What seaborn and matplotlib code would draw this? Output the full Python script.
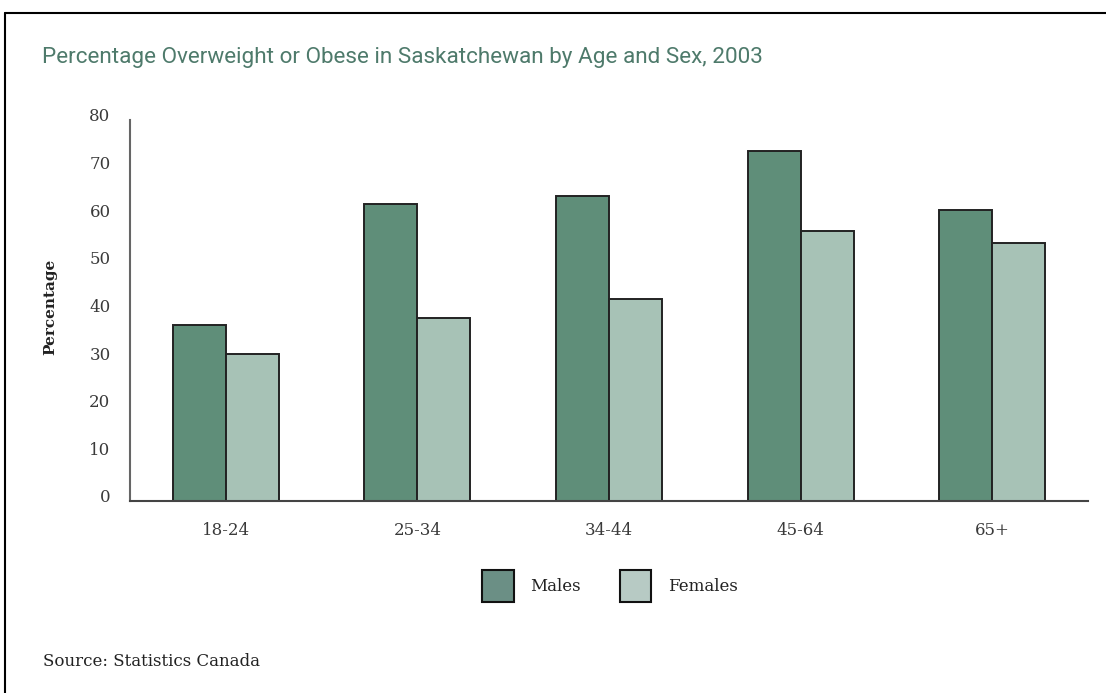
import matplotlib
matplotlib.use("Agg")
import matplotlib.pyplot as plt
import matplotlib.transforms as mtransforms
from matplotlib.patches import Patch
from matplotlib.lines import Line2D
import pandas as pd
import seaborn as sns

# Data: percentage overweight or obese, Saskatchewan 2003
age_groups = ["18-24", "25-34", "34-44", "45-64", "65+"]
males = [36.9, 62.3, 64.1, 73.5, 61.1]
females = [30.8, 38.4, 42.5, 56.6, 54.1]
series = ["Males", "Females"]
y_ticks = [0, 10, 20, 30, 40, 50, 60, 70, 80]

title = "Percentage Overweight or Obese in Saskatchewan by Age and Sex, 2003"
source = "Source: Statistics Canada"

bar_colors = ["#5f8e79", "#a7c2b6"]
legend_colors = ["#6b8f85", "#b7cac4"]
title_color = "#4e7a6b"

df = pd.DataFrame({
    "Age": age_groups * 2,
    "Sex": [series[0]] * len(age_groups) + [series[1]] * len(age_groups),
    "Percentage": males + females,
})

sns.set_theme(style="white")
plt.rcParams["font.family"] = ["DejaVu Serif"]

W, H = 1106, 693
fig = plt.figure(figsize=(W / 100, H / 100), dpi=100)
ax = fig.add_axes([130 / W, 1 - 501 / H, (1088 - 130) / W, (501 - 120) / H])

sns.barplot(data=df, x="Age", y="Percentage", hue="Sex", order=age_groups,
            hue_order=series, palette=bar_colors, saturation=1, width=0.553,
            errorbar=None, edgecolor="#222222", linewidth=1.4, legend=False, ax=ax)

ax.set_xlim(-0.5, len(age_groups) - 0.5)
ax.set_ylim(0, 80)
ax.set_yticks(y_ticks)
ax.set_yticklabels([str(t) for t in y_ticks])
ax.set_xlabel("")
ax.set_ylabel("Percentage", fontsize=11, fontweight="bold", color="#222222")
ax.yaxis.set_label_coords(-0.076, 0.51)

ax.tick_params(axis="both", length=0, labelsize=12, labelcolor="#3a3a3a")
ax.tick_params(axis="y", pad=14)
ax.tick_params(axis="x", pad=15)
shift = mtransforms.ScaledTranslation(0, 5 / 100, fig.dpi_scale_trans)
for lbl in ax.get_yticklabels():
    lbl.set_transform(lbl.get_transform() + shift)

for side in ["top", "right"]:
    ax.spines[side].set_visible(False)
ax.spines["left"].set_color("#666666")
ax.spines["left"].set_linewidth(1.5)
ax.spines["bottom"].set_color("#444444")
ax.spines["bottom"].set_linewidth(1.5)
ax.grid(False)

# Title in a narrow sans face
fig.text(42 / W, 1 - 58 / H, title, fontsize=16.2, color=title_color,
         family=["Roboto", "DejaVu Sans"], va="center", ha="left")

# Legend below the plot
handles = [Patch(facecolor=c, edgecolor="#111111", linewidth=1.5) for c in legend_colors]
fig.legend(handles, series, loc="center", bbox_to_anchor=(610 / W, 1 - 586 / H),
           ncol=2, frameon=False, fontsize=12, handlelength=1.9, handleheight=2.5,
           handletextpad=1.0, columnspacing=2.3, labelcolor="#222222")

fig.text(43 / W, 1 - 661 / H, source, fontsize=12, color="#222222",
         va="center", ha="left")

# Frame lines along the top and left edges
fig.add_artist(Line2D([5 / W, 1], [1 - 12.5 / H, 1 - 12.5 / H],
                      transform=fig.transFigure, color="black", linewidth=1.5))
fig.add_artist(Line2D([5 / W, 5 / W], [0, 1 - 12.5 / H],
                      transform=fig.transFigure, color="black", linewidth=1.5))

fig.savefig("out.png", dpi=100, facecolor="white")
